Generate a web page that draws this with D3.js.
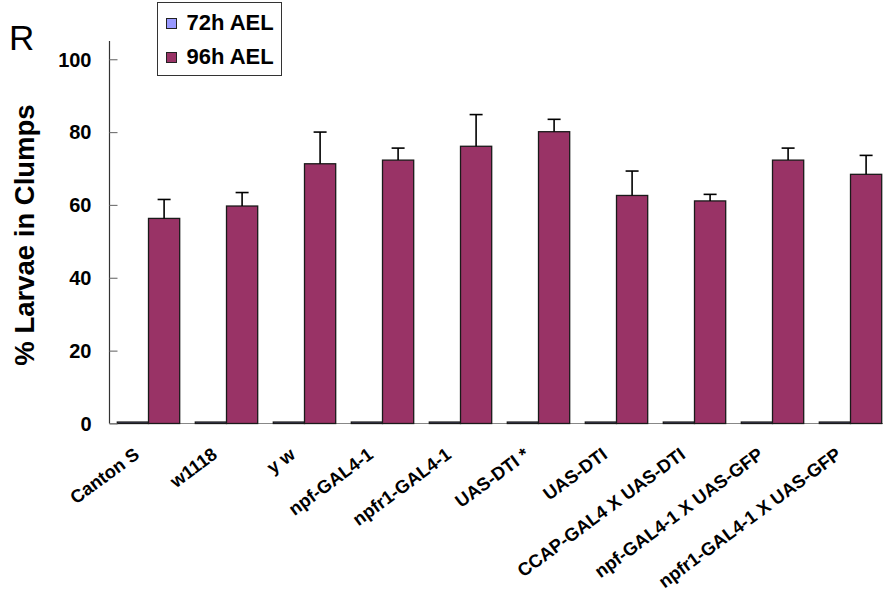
<!DOCTYPE html>
<html>
<head>
<meta charset="utf-8">
<script src="https://cdn.jsdelivr.net/npm/d3@7"></script>
<style>
  html, body { margin: 0; padding: 0; background: #fff; }
  svg { display: block; font-family: Arial, "Liberation Sans", sans-serif; }
</style>
</head>
<body>
<svg id="chart" width="883" height="601"></svg>
<script>
// Genotypes on the x axis
const categories = [
  "Canton S", "w1118", "y w", "npf-GAL4-1", "npfr1-GAL4-1",
  "UAS-DTI *", "UAS-DTI", "CCAP-GAL4 X UAS-DTI",
  "npf-GAL4-1 X UAS-GFP", "npfr1-GAL4-1 X UAS-GFP"
];
const seriesNames = ["72h AEL", "96h AEL"];
// % larvae in clumps at each stage
const values72 = [0.4, 0.4, 0.4, 0.4, 0.4, 0.4, 0.4, 0.4, 0.4, 0.4];
const values96 = [56.3, 59.7, 71.3, 72.3, 76.1, 80.1, 62.6, 61.1, 72.3, 68.4];
// upper error (SEM) for the 96h bars
const errors96 = [5.2, 3.7, 8.7, 3.3, 8.7, 3.4, 6.7, 1.8, 3.3, 5.2];
const yTicks = [0, 20, 40, 60, 80, 100];

const colors = { "72h AEL": "#9999ff", "96h AEL": "#993366" };

const svg = d3.select("#chart");
const plotLeft = 109.5, plotRight = 889.5, plotTop = 41, plotBottom = 423.5;

const x = d3.scaleBand().domain(categories).range([plotLeft, plotRight]).padding(0);
const xs = d3.scaleBand().domain(seriesNames)
  .range([x.bandwidth() * 0.1, x.bandwidth() * 0.9]).padding(0);
const y = d3.scaleLinear().domain([0, 105]).range([plotBottom, plotTop]);

const rows = categories.map((c, i) => ({
  cat: c,
  bars: [
    { s: "72h AEL", v: values72[i], e: 0 },
    { s: "96h AEL", v: values96[i], e: errors96[i] }
  ]
}));

// x axis line
svg.append("line")
  .attr("x1", plotLeft).attr("x2", plotRight)
  .attr("y1", plotBottom).attr("y2", plotBottom)
  .attr("stroke", "#888").attr("stroke-width", 1.2);

// bars
const groups = svg.selectAll("g.grp").data(rows).join("g")
  .attr("class", "grp")
  .attr("transform", d => `translate(${x(d.cat)},0)`);

groups.selectAll("rect").data(d => d.bars).join("rect")
  .attr("x", d => xs(d.s))
  .attr("width", xs.bandwidth())
  .attr("y", d => y(d.v))
  .attr("height", d => y(0) - y(d.v))
  .attr("fill", d => colors[d.s])
  .attr("stroke", "#1a1a1a")
  .attr("stroke-width", 1.3);

// error bars (upper only)
const err = groups.selectAll("g.err").data(d => d.bars.filter(b => b.e > 0)).join("g")
  .attr("class", "err");
err.append("line")
  .attr("x1", d => xs(d.s) + xs.bandwidth() / 2)
  .attr("x2", d => xs(d.s) + xs.bandwidth() / 2)
  .attr("y1", d => y(d.v))
  .attr("y2", d => y(d.v + d.e))
  .attr("stroke", "#000").attr("stroke-width", 1.6);
err.append("line")
  .attr("x1", d => xs(d.s) + xs.bandwidth() / 2 - 6.5)
  .attr("x2", d => xs(d.s) + xs.bandwidth() / 2 + 6.5)
  .attr("y1", d => y(d.v + d.e))
  .attr("y2", d => y(d.v + d.e))
  .attr("stroke", "#000").attr("stroke-width", 1.6);

// y axis
const yAxis = svg.append("g")
  .attr("transform", `translate(${plotLeft},0)`)
  .call(d3.axisRight(y).tickValues(yTicks).tickSize(8).tickFormat(d3.format("d")));
yAxis.select(".domain").attr("d", `M0,${plotTop}V${plotBottom}`).attr("stroke", "#333").attr("stroke-width", 1.2);
yAxis.selectAll(".tick line").attr("stroke", "#777").attr("stroke-width", 1.2);
yAxis.selectAll(".tick text")
  .attr("x", -18).attr("dy", "0.34em")
  .attr("text-anchor", "end")
  .attr("fill", "#000")
  .style("font-size", "20px").style("font-weight", "bold")
  .style("font-family", "Arial, 'Liberation Sans', sans-serif");

// y axis title
svg.append("text")
  .attr("transform", "translate(34,235) rotate(-90)")
  .attr("text-anchor", "middle")
  .style("font-size", "27.5px").style("font-weight", "bold")
  .text("% Larvae in Clumps");

// category labels, slanted, ending just left of each group centre
svg.append("g").selectAll("text").data(categories).join("text")
  .attr("transform", d => `translate(${x(d) + x.bandwidth() / 2 - 8},${plotBottom + 33.5}) rotate(-36.5)`)
  .attr("text-anchor", "end")
  .style("font-size", "18.3px").style("font-weight", "bold")
  .text(d => d);

// panel letter
svg.append("text")
  .attr("x", 9).attr("y", 50)
  .style("font-size", "35px")
  .text("R");

// legend
const lg = svg.append("g").attr("transform", "translate(157.5,2.5)");
lg.append("rect").attr("width", 124).attr("height", 73)
  .attr("fill", "#fff").attr("stroke", "#333").attr("stroke-width", 1);
const items = lg.selectAll("g.item").data(seriesNames).join("g")
  .attr("class", "item")
  .attr("transform", (d, i) => `translate(0,${i * 34})`);
items.append("rect")
  .attr("x", 9).attr("y", 16).attr("width", 10).attr("height", 10)
  .attr("fill", d => colors[d]).attr("stroke", "#222").attr("stroke-width", 1);
items.append("text")
  .attr("x", 29).attr("y", 27)
  .style("font-size", "22px").style("font-weight", "bold")
  .text(d => d);
</script>
</body>
</html>
